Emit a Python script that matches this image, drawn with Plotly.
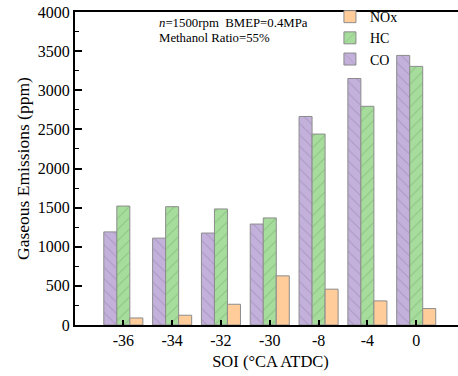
import plotly.graph_objects as go

categories = ["-36", "-34", "-32", "-30", "-8", "-4", "0"]
co = [1190, 1110, 1175, 1290, 2665, 3150, 3445]
hc = [1520, 1512, 1483, 1368, 2440, 2795, 3305]
nox = [90, 125, 265, 628, 458, 308, 210]

font = "Liberation Serif"
fig = go.Figure()
fig.add_bar(name="CO", x=categories, y=co,
            marker=dict(color="#c3b1dc", line=dict(color="#8c8c8c", width=1),
                        pattern=dict(shape="\\", fgcolor="#8f7fa6", size=8, solidity=0.12)))
fig.add_bar(name="HC", x=categories, y=hc,
            marker=dict(color="#a6dc9c", line=dict(color="#8c8c8c", width=1),
                        pattern=dict(shape="/", fgcolor="#74a86c", size=8, solidity=0.12)))
fig.add_bar(name="NOx", x=categories, y=nox,
            marker=dict(color="#ffcc9a", line=dict(color="#8c8c8c", width=1)))

fig.update_layout(
    template="simple_white",
    width=466, height=376,
    margin=dict(l=75, r=0, t=12, b=51),
    paper_bgcolor="white", plot_bgcolor="white",
    barmode="group", bargap=0.2, bargroupgap=0,
    font=dict(family=font, size=15, color="black"),
    showlegend=True,
    legend=dict(x=0.652, y=1.035, xanchor="left", yanchor="top", traceorder="reversed",
                bgcolor="rgba(0,0,0,0)", font=dict(family=font, size=14),
                tracegroupgap=0),
    annotations=[
        dict(xref="paper", yref="paper", x=0.2097, y=0.965, xanchor="left", yanchor="middle",
             showarrow=False, text="<i>n</i>=1500rpm  BMEP=0.4MPa",
             font=dict(size=12.8, family=font)),
        dict(xref="paper", yref="paper", x=0.2097, y=0.917, xanchor="left", yanchor="middle",
             showarrow=False, text="Methanol Ratio=55%",
             font=dict(size=12.8, family=font)),
    ],
    xaxis=dict(
        type="category", range=[-0.99, 7.02], automargin=False,
        showline=True, linecolor="black", linewidth=2, mirror=True,
        ticks="inside", ticklen=5, tickcolor="black", tickwidth=2,
        tickfont=dict(family=font, size=16, color="black"),
        title=dict(text="SOI (°CA ATDC)", font=dict(family=font, size=16.5), standoff=7),
        showgrid=False,
    ),
    yaxis=dict(
        range=[0, 4000], dtick=500, automargin=False,
        showline=True, linecolor="black", linewidth=2, mirror=False,
        ticks="inside", ticklen=7, tickcolor="black", tickwidth=2,
        minor=dict(ticks="inside", ticklen=4, dtick=250, tickcolor="black", tickwidth=1),
        tickfont=dict(family=font, size=16, color="black"),
        title=dict(text="Gaseous Emissions (ppm)", font=dict(family=font, size=17.5), standoff=4),
        showgrid=False, zeroline=False,
    ),
)
fig.write_html("out.html", config={"displayModeBar": False},
               post_script="document.body.style.margin='0';")
